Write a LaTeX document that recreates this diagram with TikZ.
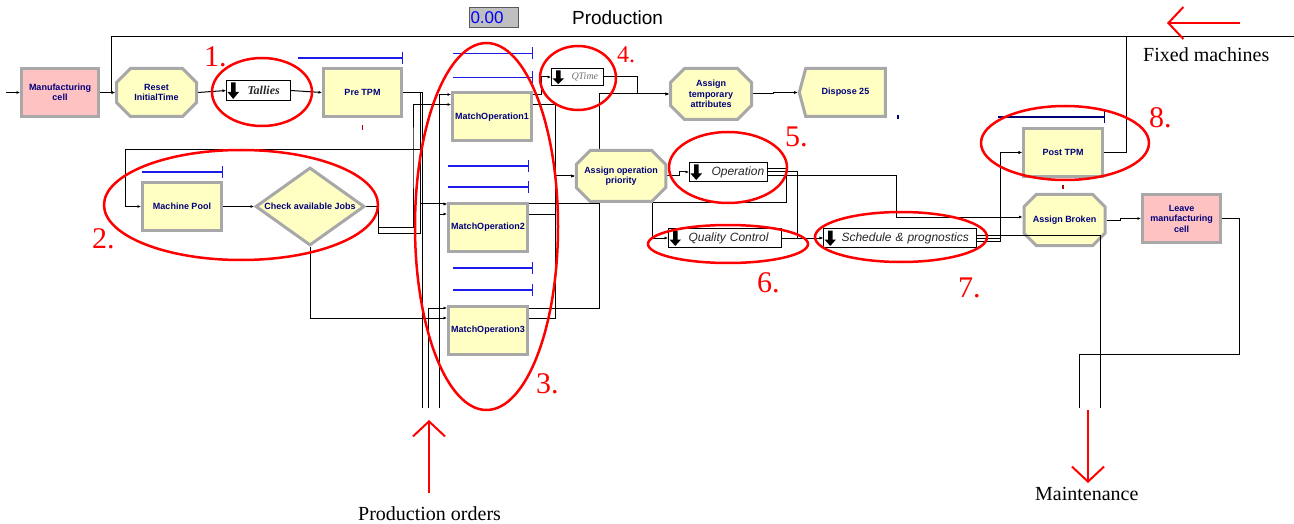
\documentclass[tikz,border=0pt]{standalone}
\usepackage{fontspec}
\setmainfont{Liberation Serif}
\setsansfont{Liberation Sans}
\usetikzlibrary{shapes.misc,shapes.geometric,shapes.symbols,calc,arrows.meta}
\pgfdeclarelayer{paper}
\pgfdeclarelayer{wires}
\pgfsetlayers{paper,wires,main}
\definecolor{modfill}{HTML}{FFFFC4}
\definecolor{cellfill}{HTML}{FFC2C2}
\definecolor{framegray}{HTML}{A8A8A8}
\definecolor{labelnavy}{HTML}{00007A}
\definecolor{redink}{HTML}{FF0000}
\definecolor{qblue}{HTML}{1C1CE8}
\begin{document}
\begin{tikzpicture}[x=1pt,y=-1pt,
  module/.style={draw=framegray, line width=3pt, fill=modfill, inner sep=1pt, align=center,
    font=\sffamily\bfseries\fontsize{9}{10.5}\selectfont, text=labelnavy},
  procbox/.style={module, rectangle, minimum width=79, minimum height=48},
  cellbox/.style={procbox, fill=cellfill},
  assignbox/.style={module, chamfered rectangle, chamfered rectangle xsep=7pt,
    chamfered rectangle ysep=7pt, minimum width=81, minimum height=51},
  disposebox/.style={module, signal, signal to=west, signal pointer angle=150,
    minimum width=86, minimum height=48},
  decidebox/.style={module, diamond, minimum width=109, minimum height=78, inner sep=0pt},
  databox/.style={draw=black, line width=0.9pt, fill=white, inner xsep=0pt, inner ysep=0pt,
    align=left, font=\sffamily\itshape\fontsize{12}{12}\selectfont, text=black!85,
    path picture={\fill[black] ($(path picture bounding box.north west)+(4.5,2)$) -- ++(4.5,0)
      -- ($(path picture bounding box.west)+(9,1.5)$) -- ++(3.5,0)
      -- ($(path picture bounding box.south west)+(6.75,-1.5)$)
      -- ($(path picture bounding box.west)+(1,1.5)$) -- ++(3.5,0) -- cycle;}},
  link/.style={line width=1pt, black, -{Latex[length=3.5pt,width=3pt]}},
  wire/.style={line width=1pt, black},
  queueline/.style={qblue, line width=1.2pt, -{Bar[width=12pt,line width=1.2pt]}},
  hoop/.style={redink, line width=2.5pt},
  num/.style={text=redink, font=\fontsize{30}{30}\selectfont, inner sep=0pt, anchor=base west},
  caption/.style={font=\fontsize{20}{20}\selectfont, inner sep=0pt, anchor=base west},
  flowarrow/.style={redink, line width=2pt, -{Straight Barb[length=15pt,width=32pt,line width=2pt]}},
]
\begin{pgfonlayer}{paper}
\fill[white] (0,0) rectangle (1294,524);
\end{pgfonlayer}
\useasboundingbox (0,0) rectangle (1294,524);

% ---------- header ----------
\node[draw=black!65, line width=1pt, fill=black!25, inner xsep=1pt, inner ysep=0pt,
  text width=47, minimum height=20, align=left, font=\sffamily\fontsize{17}{17}\selectfont,
  text=blue] (counter) at (494,18) {0.00};
\node[font=\sffamily\fontsize{19}{19}\selectfont, anchor=base, inner sep=0pt] (prodtitle)
  at (617.5,25) {Production};

% ---------- modules ----------
\node[cellbox, minimum width=77] (mfg) at (60,92.5) {Manufacturing\\cell};
\node[assignbox, minimum width=80, minimum height=48] (reset) at (156.5,92.5) {Reset\\InitialTime};
\node[databox, text width=64, minimum height=20,
  font=\rmfamily\bfseries\itshape\fontsize{12}{12}\selectfont] (tal) at (258.5,90.5) {\hspace*{21pt}Tallies};
\node[procbox, minimum width=78] (pretpm) at (362.5,92.5) {Pre TPM};
\node[procbox] (mo1) at (492,117) {MatchOperation1};
\node[procbox] (mo2) at (488,227.5) {MatchOperation2};
\node[procbox] (mo3) at (488,330.5) {MatchOperation3};
\node[procbox] (mpool) at (182,206.5) {Machine Pool};
\node[decidebox] (chk) at (310,206.5) {};
\node[font=\sffamily\bfseries\fontsize{9}{10.5}\selectfont, text=labelnavy, inner sep=0pt]
  (chktext) at (310,206.5) {Check available Jobs};
\node[databox, text width=52, minimum height=17,
  font=\rmfamily\itshape\fontsize{10}{10}\selectfont, text=black!55] (qt) at (577.5,77) {\hspace*{20pt}QTime};
\node[assignbox] (ata) at (711,94) {Assign\\temporary\\attributes};
\node[disposebox] (disp) at (845.5,92.5) {Dispose 25};
\node[assignbox] (aop) at (621,176) {Assign operation\\priority};
\node[databox, text width=78, minimum height=19] (op) at (728.5,172) {\hspace*{22pt}Operation};
\node[databox, text width=113, minimum height=19] (qc) at (725,238) {\hspace*{20pt}Quality Control};
\node[databox, text width=153, minimum height=19] (sch) at (900,238) {\hspace*{18pt}Schedule \& prognostics};
\node[procbox] (posttpm) at (1063,152.5) {Post TPM};
\node[assignbox] (ab) at (1064.5,220) {Assign Broken};
\node[cellbox, minimum width=78] (leave) at (1181.5,218.5) {Leave\\manufacturing\\cell};

% ---------- ports and free ends ----------
\coordinate (entry) at (6,92.5);
\coordinate (fixedin) at (1294,37);
\coordinate (topj) at (1126,37);
\coordinate (ord1) at (422,408);
\coordinate (ord2) at (428,408);
\coordinate (ord3) at (439,408);
\coordinate (mnt1) at (1079,408);
\coordinate (mnt2) at (1100,408);
\coordinate (mo1in1) at ($(mo1.north west)+(0,3)$);
\coordinate (mo1in2) at ($(mo1.north west)+(0,13)$);
\coordinate (mo2in1) at ($(mo2.north west)+(0,2)$);
\coordinate (mo2in2) at ($(mo2.north west)+(0,12)$);
\coordinate (mo3in1) at ($(mo3.north west)+(0,3)$);
\coordinate (mo3in2) at ($(mo3.north west)+(0,13)$);
\coordinate (mo1out1) at ($(mo1.north east)+(0,3)$);
\coordinate (mo1out2) at ($(mo1.north east)+(0,13)$);
\coordinate (mo2out1) at ($(mo2.north east)+(0,2)$);
\coordinate (mo2out2) at ($(mo2.north east)+(0,12)$);
\coordinate (mo3out1) at ($(mo3.north east)+(0,3)$);
\coordinate (mo3out2) at ($(mo3.north east)+(0,13)$);
\coordinate (opout1) at ($(op.east)+(0,-3)$);
\coordinate (opout2) at (op.east);
\coordinate (opout3) at ($(op.east)+(0,4)$);
\coordinate (schout1) at ($(sch.east)+(0,-3)$);
\coordinate (schout2) at (sch.east);
\coordinate (schout3) at ($(sch.east)+(0,3)$);
\coordinate (abin) at ($(ab.west)+(0,-3)$);

% ---------- connectors ----------
\begin{pgfonlayer}{wires}
\draw[link] (entry) -- (mfg.west);
\draw[link] (mfg.east) -- (reset.west);
\draw[wire] (posttpm.east) -| (topj);
\draw[link] (topj) -| ($(reset.west)+(-4,0)$) -- (reset.west);
\draw[wire] (fixedin) -- (topj);
\draw[link] (reset.east) -- (tal.west);
\draw[link] (tal.east) -- (pretpm.west);
\draw[wire] (pretpm.east) -| (ord1);
\draw[link] (pretpm.east) -| ($(mo2in1)+(-26.5,0)$) -- (mo2in1);
\draw[link] (pretpm.east) -| (422,150) -| ($(mpool.west)+(-16,0)$) -- (mpool.west);
\draw[link] (ord3) |- (mo1in1);
\draw[link] (ord3) |- (mo2in2);
\draw[link] (ord2) |- (mo3in1);
\draw[link] (chk.east) -| (378,227) -| (413,150) |- (mo1in2);
\draw[link] (chk.east) -| (378,233) -| ($(mo2in1)+(-26.5,0)$) -- (mo2in1);
\draw[link] (chk.south) |- (mo3in2);
\draw[link] (mpool.east) -- (chk.west);
\draw[link] (mo1out1) -| (541,77) -- (qt.west);
\draw[link] (mo1out2) -| (555,176) -- (aop.west);
\draw[link] (mo2out2) -| (555,176) -- (aop.west);
\draw[link] (mo3out2) -| (555,176) -- (aop.west);
\draw[link] (mo3out1) -| (599,94) -- (ata.west);
\draw[link] (mo2out1) -| (599,94) -- (ata.west);
\draw[link] (qt.east) -| (637,94) -- (ata.west);
\draw[link] (ata.east) -- ++(20,0) |- (disp.west);
\draw[link] (aop.east) -- ++(12,0) |- (op.west);
\draw[link] (opout1) -| (786,203) -| (652,238) -- (qc.west);
\draw[link] (opout2) -| (797,238) -- (sch.west);
\draw[link] (qc.east) -- (sch.west);
\draw[link] (opout3) -| (896,217) -- (abin);
\draw[link] (schout3) -| (1000.5,152.5) -- (posttpm.west);
\draw[link] (schout2) -| (1000.5,152.5) -- (posttpm.west);
\draw[link] (ab.east) -- ++(14,0) |- (leave.west);
\draw[wire] (leave.east) -| (1239,354) -| (mnt1);
\end{pgfonlayer}
\draw[wire] (schout1) -| (mnt2);

% ---------- queues and small marks ----------
\draw[queueline] ($(pretpm.north west)+(-24,-9)$) -- ($(pretpm.north east)+(0,-9)$);
\draw[queueline] ($(mo1.north west)+(2,-38)$) -- ($(mo1.north east)+(0,-38)$);
\draw[queueline] ($(mo1.north west)+(2,-14)$) -- ($(mo1.north east)+(0,-14)$);
\draw[queueline] ($(mo2.north west)+(1,-36)$) -- ($(mo2.north east)+(0,-36)$);
\draw[queueline] ($(mo2.north west)+(1,-15)$) -- ($(mo2.north east)+(0,-15)$);
\draw[queueline] ($(mo3.north west)+(6,-37)$) -- ($(mo3.north east)+(4,-37)$);
\draw[queueline] ($(mo3.north west)+(6,-15)$) -- ($(mo3.north east)+(4,-15)$);
\draw[queueline] ($(mpool.north west)+(1,-9)$) -- ($(mpool.north east)+(0,-9)$);
\draw[queueline, labelnavy] ($(posttpm.north west)+(-24,-10)$) -- ($(posttpm.north east)+(1,-10)$);
\draw[redink!70!black, line width=1.5pt] ($(pretpm.south)+(0,7.5)$) -- ++(0,5);
\draw[labelnavy, line width=1.5pt] (898,115) -- (898,119.5);
\draw[redink!70!black, line width=1.5pt] ($(posttpm.south)+(0,7)$) -- ++(0,4);

% ---------- highlighted groups ----------
\draw[hoop] (262,92) ellipse [x radius=50, y radius=34];
\draw[hoop] (241,205) ellipse [x radius=137, y radius=55];
\draw[hoop] (486.5,226.5) ellipse [x radius=71.5, y radius=183.5];
\draw[hoop] (578,78) ellipse [x radius=38, y radius=32];
\draw[hoop] (728,167.5) ellipse [x radius=59, y radius=35.5];
\draw[hoop] (728,244) ellipse [x radius=80, y radius=19];
\draw[hoop] (901,237) ellipse [x radius=86, y radius=25];
\draw[hoop] (1065,143) ellipse [x radius=84, y radius=37];
\node[num] (n1) at (204,66.5) {1.};
\node[num] (n2) at (92,248) {2.};
\node[num] (n3) at (536,393) {3.};
\node[num, font=\fontsize{24}{24}\selectfont] (n4) at (617,63) {4.};
\node[num] (n5) at (785,147) {5.};
\node[num] (n6) at (757,292) {6.};
\node[num] (n7) at (958,297) {7.};
\node[num] (n8) at (1149,128) {8.};

% ---------- external flows ----------
\coordinate (fixtail) at (1240,23);
\coordinate (fixtip) at (1167,23);
\draw[flowarrow] (fixtail) -- (fixtip);
\node[caption] (fixlbl) at (1143,62) {Fixed machines};
\coordinate (ordtail) at (429,493);
\coordinate (ordtip) at (429,420);
\draw[flowarrow] (ordtail) -- (ordtip);
\node[caption] (ordlbl) at (358,520) {Production orders};
\coordinate (mnttail) at (1088,410);
\coordinate (mnttip) at (1088,483);
\draw[flowarrow] (mnttail) -- (mnttip);
\node[caption] (mntlbl) at (1035,500.5) {Maintenance};
\end{tikzpicture}
\end{document}
